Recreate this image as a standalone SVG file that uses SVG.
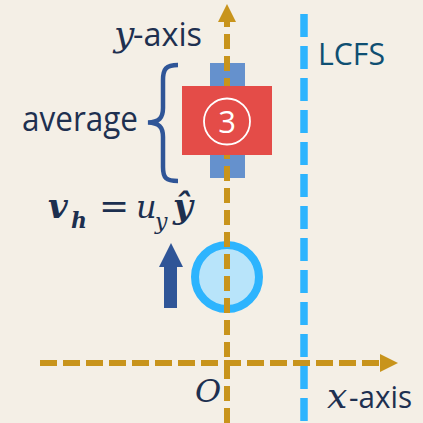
<svg xmlns="http://www.w3.org/2000/svg" width="423" height="423" viewBox="0 0 423 423">
<style>
.lbl{font-family:"Open Sans","Liberation Sans",sans-serif;fill:#1E3050}
.it{font-family:"DejaVu Serif","Liberation Serif",serif;font-style:italic}
.math{font-family:"DejaVu Serif","Liberation Serif",serif;fill:#1C2F4F;font-size:32px}
.axis{stroke:#C8941C;stroke-width:6;fill:none}
</style>
<defs>
<marker id="gold" markerWidth="20" markerHeight="20" viewBox="0 0 20 20" refX="0" refY="10" orient="auto" markerUnits="userSpaceOnUse">
<path d="M0,1 L18,10 L0,19 Z" fill="#C8941C"/>
</marker>
</defs>
<rect width="423" height="423" fill="#F4EFE6"/>
<g id="lcfs">
<line x1="304" y1="14" x2="304" y2="423" stroke="#2DB4FE" stroke-width="7.5" stroke-dasharray="23 9"/>
<text class="lbl" x="318" y="65" font-size="31" style="fill:#0F4F72" textLength="67" lengthAdjust="spacingAndGlyphs">LCFS</text>
</g>
<g id="blob">
<circle cx="227" cy="277" r="32" fill="#B8E4FA" stroke="#2DB4FE" stroke-width="8"/>
</g>
<g id="cell-back">
<rect x="210" y="63" width="35" height="115" fill="#6591CD"/>
</g>
<g id="connectors">
<line class="axis" x1="227" y1="423" x2="227" y2="22" stroke-dasharray="15 7" marker-end="url(#gold)"/>
<line class="axis" x1="40" y1="363" x2="380" y2="363" stroke-dasharray="17 6" marker-end="url(#gold)"/>
</g>
<g id="cell3">
<rect x="182" y="86" width="90" height="69" fill="#E44C48"/>
<circle cx="227" cy="121.5" r="23" fill="none" stroke="#FFFFFF" stroke-width="1.8"/>
<text x="227" y="133" font-family="'Open Sans','Liberation Sans',sans-serif" font-size="31" fill="#FFFFFF" text-anchor="middle">3</text>
</g>
<g id="average">
<path d="M178,65 C166,65 163,69 163,80 L163,108 C163,118 159,122 148,122.5 C159,123 163,127 163,137 L163,167 C163,178 166,181 178,181" fill="none" stroke="#2F5597" stroke-width="4.5"/>
<text class="lbl" x="22" y="131" font-size="35" textLength="116" lengthAdjust="spacingAndGlyphs">average</text>
</g>
<g id="velocity">
<path d="M164,308 L164,267 L159,267 L171,243 L183,267 L177,267 L177,308 Z" fill="#2F5597"/>
<text class="math" y="218"><tspan x="48" font-size="34" font-weight="bold" font-style="italic">v</tspan><tspan x="71" y="228" font-size="22" font-weight="bold" font-style="italic">h</tspan><tspan x="99" y="218" font-size="36">=</tspan><tspan x="136" font-style="italic">u</tspan><tspan x="155" y="229" font-size="22" font-style="italic">y</tspan><tspan x="173" y="218" font-size="34" font-weight="bold" font-style="italic">ŷ</tspan></text>
</g>
<g id="labels">
<text class="lbl" x="114" y="46" font-size="33"><tspan class="it" font-size="36">y</tspan><tspan x="133" textLength="69" lengthAdjust="spacingAndGlyphs">-axis</tspan></text>
<text class="lbl" x="327" y="408" font-size="31"><tspan class="it" font-size="36">x</tspan><tspan x="349" textLength="63" lengthAdjust="spacingAndGlyphs">-axis</tspan></text>
<text class="lbl it" x="195" y="402" font-size="32">O</text>
</g>
</svg>
